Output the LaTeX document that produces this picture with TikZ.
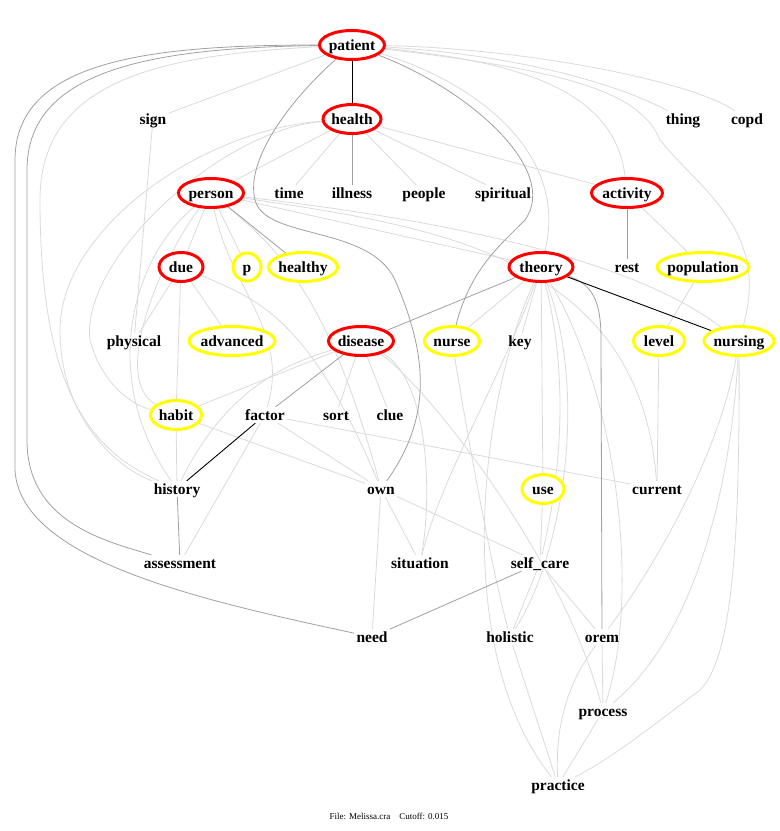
\documentclass[tikz,border=0pt]{standalone}
\usepackage{fontspec}
\setmainfont{Liberation Serif}
\usetikzlibrary{shapes.geometric}
\pgfdeclarelayer{bg}
\pgfsetlayers{bg,main}
\definecolor{ringred}{RGB}{255,0,0}
\definecolor{ringyel}{RGB}{255,255,0}
\definecolor{edgemid}{RGB}{160,160,160}
\definecolor{edgelt}{RGB}{218,218,218}
\tikzset{
 lbl/.style={font=\fontsize{15.5}{18}\selectfont\bfseries, inner sep=2pt, text height=11pt, text depth=1pt},
 ring/.style={lbl, ellipse, line width=3pt, fill=white, inner sep=0pt, minimum height=29},
 redring/.style={ring, draw=ringred},
 yelring/.style={ring, draw=ringyel},
 eblk/.style={draw=black, line width=0.9pt},
 emid/.style={draw=edgemid, line width=0.8pt},
 elt/.style={draw=edgelt, line width=0.8pt},
 foot/.style={font=\fontsize{9}{11}\selectfont, inner sep=0pt},
}
\begin{document}
\begin{tikzpicture}[x=1pt,y=-1pt]
\useasboundingbox (0,0) rectangle (780,831);
% nodes
\node[redring, minimum width=65] (patient) at (352,45) {\makebox[0pt]{patient}};
\node[redring, minimum width=58] (health) at (352,119) {\makebox[0pt]{health}};
\node[lbl] (sign) at (153,119) {sign};
\node[lbl] (thing) at (683,119) {thing};
\node[lbl] (copd) at (747,119) {copd};
\node[redring, minimum width=65] (person) at (211,193) {\makebox[0pt]{person}};
\node[lbl] (time) at (289,193) {time};
\node[lbl] (illness) at (352,193) {illness};
\node[lbl] (people) at (424,193) {people};
\node[lbl] (spiritual) at (503,193) {spiritual};
\node[redring, minimum width=71] (activity) at (627,193) {\makebox[0pt]{activity}};
\node[redring, minimum width=44] (due) at (181,267) {\makebox[0pt]{due}};
\node[yelring, minimum width=28, minimum height=28] (p) at (247,267) {\makebox[0pt]{p}};
\node[yelring, minimum width=69] (healthy) at (303,267) {\makebox[0pt]{healthy}};
\node[redring, minimum width=64] (theory) at (541,267) {\makebox[0pt]{theory}};
\node[lbl] (rest) at (627,267) {rest};
\node[yelring, minimum width=92] (population) at (703,267) {\makebox[0pt]{population}};
\node[lbl] (physical) at (134,341) {physical};
\node[yelring, minimum width=86] (advanced) at (232,341) {\makebox[0pt]{advanced}};
\node[redring, minimum width=65] (disease) at (361,341) {\makebox[0pt]{disease}};
\node[yelring, minimum width=55] (nurse) at (452,341) {\makebox[0pt]{nurse}};
\node[lbl] (key) at (520,341) {key};
\node[yelring, minimum width=51] (level) at (659,341) {\makebox[0pt]{level}};
\node[yelring, minimum width=70] (nursing) at (739,341) {\makebox[0pt]{nursing}};
\node[yelring, minimum width=51] (habit) at (176,415) {\makebox[0pt]{habit}};
\node[lbl] (factor) at (265,415) {factor};
\node[lbl] (sort) at (336,415) {sort};
\node[lbl] (clue) at (390,415) {clue};
\node[lbl] (history) at (177,489) {history};
\node[lbl] (own) at (381,489) {own};
\node[yelring, minimum width=42] (use) at (543,489) {\makebox[0pt]{use}};
\node[lbl] (current) at (657,489) {current};
\node[lbl] (assessment) at (180,563) {assessment};
\node[lbl] (situation) at (420,563) {situation};
\node[lbl] (self_care) at (540,563) {self\_care};
\node[lbl] (need) at (372,637) {need};
\node[lbl] (holistic) at (510,637) {holistic};
\node[lbl] (orem) at (602,637) {orem};
\node[lbl] (process) at (603,711) {process};
\node[lbl] (practice) at (558,785) {practice};
\node[foot] (footer) at (389,816) {File: Melissa.cra\hspace{9pt}Cutoff: 0.015};
% edges
\begin{pgfonlayer}{bg}
% light edges
\draw[elt] (patient) -- (sign);
\draw[elt] (patient) .. controls (160,55) and (40,80) .. (40,200) .. controls (40,390) and (90,450) .. (history);
\draw[elt] (patient) .. controls (520,55) and (620,85) .. (thing);
\draw[elt] (patient) .. controls (520,48) and (690,80) .. (copd);
\draw[elt] (patient) .. controls (520,62) and (615,90) .. (activity);
\draw[elt] (patient) .. controls (560,70) and (640,90) .. (660,140) .. controls (700,190) and (770,230) .. (nursing);
\draw[elt] (patient) .. controls (470,80) and (570,150) .. (theory);
\draw[elt] (health) -- (time);
\draw[elt] (health) -- (people);
\draw[elt] (health) -- (spiritual);
\draw[elt] (health) -- (activity);
\draw[elt] (health) -- (person);
\draw[elt] (health) .. controls (200,130) and (60,230) .. (60,330) .. controls (60,420) and (120,470) .. (history);
\draw[elt] (health) .. controls (220,130) and (80,260) .. (90,340) .. controls (100,380) and (130,405) .. (habit);
\draw[elt] (sign) -- (physical);
\draw[elt] (person) -- (due);
\draw[elt] (person) -- (p);
\draw[elt] (person) .. controls (130,260) and (100,380) .. (history);
\draw[elt] (person) .. controls (160,260) and (110,380) .. (habit);
\draw[elt] (person) -- (theory);
\draw[elt] (person) .. controls (400,215) and (620,250) .. (nursing);
\draw[elt] (person) .. controls (420,225) and (640,250) .. (current);
\draw[elt] (person) .. controls (230,290) and (290,330) .. (factor);
\draw[elt] (person) .. controls (280,250) and (330,300) .. (own);
\draw[elt] (due) -- (physical);
\draw[elt] (due) -- (advanced);
\draw[elt] (due) -- (habit);
\draw[elt] (due) .. controls (260,300) and (310,320) .. (own);
\draw[elt] (disease) -- (sort);
\draw[elt] (disease) -- (clue);
\draw[elt] (disease) -- (habit);
\draw[elt] (disease) .. controls (300,360) and (230,380) .. (history);
\draw[elt] (disease) .. controls (430,380) and (432,500) .. (situation);
\draw[elt] (disease) .. controls (420,380) and (560,550) .. (process);
\draw[elt] (habit) -- (history);
\draw[elt] (habit) -- (own);
\draw[elt] (factor) -- (own);
\draw[elt] (factor) -- (current);
\draw[elt] (factor) -- (assessment);
\draw[elt] (own) -- (need);
\draw[elt] (own) -- (situation);
\draw[elt] (own) -- (self_care);
\draw[elt] (theory) -- (key);
\draw[elt] (theory) -- (nurse);
\draw[elt] (theory) -- (use);
\draw[elt] (theory) .. controls (570,380) and (560,480) .. (self_care);
\draw[elt] (theory) .. controls (500,380) and (440,480) .. (situation);
\draw[elt] (theory) .. controls (590,400) and (560,560) .. (holistic);
\draw[elt] (theory) .. controls (620,400) and (640,600) .. (process);
\draw[elt] (theory) .. controls (480,400) and (450,650) .. (practice);
\draw[elt] (activity) -- (population);
\draw[elt] (population) -- (level);
\draw[elt] (level) -- (current);
\draw[elt] (nursing) .. controls (720,450) and (660,560) .. (orem);
\draw[elt] (nursing) .. controls (730,500) and (690,640) .. (process);
\draw[elt] (nursing) .. controls (740,560) and (730,660) .. (700,690) .. controls (660,720) and (610,760) .. (practice);
\draw[elt] (use) -- (self_care);
\draw[elt] (self_care) -- (holistic);
\draw[elt] (self_care) -- (orem);
\draw[elt] (nurse) .. controls (470,450) and (490,560) .. (holistic);
\draw[elt] (holistic) -- (practice);
\draw[elt] (orem) -- (process);
\draw[elt] (orem) .. controls (570,680) and (555,720) .. (practice);
\draw[elt] (process) -- (practice);
% mid grey edges
\draw[emid] (health) -- (illness);
\draw[emid] (activity) -- (rest);
\draw[emid] (history) -- (assessment);
\draw[emid] (self_care) -- (need);
\draw[emid] (disease) -- (factor);
\draw[emid] (theory) -- (disease);
\draw[emid] (person) -- (healthy);
\draw[emid] (theory) .. controls (595,285) and (601,305) .. (601,340) -- (orem);
\draw[emid] (patient) .. controls (290,100) and (245,160) .. (255,200) .. controls (265,240) and (370,225) .. (395,280) .. controls (430,360) and (430,420) .. (own);
\draw[emid] (patient) .. controls (470,90) and (560,170) .. (525,220) .. controls (500,245) and (470,270) .. (nurse);
\draw[emid] (patient) .. controls (150,45) and (15,60) .. (15,160) -- (15,470) .. controls (20,560) and (200,600) .. (need);
\draw[emid] (patient) .. controls (150,48) and (27,70) .. (27,170) -- (27,440) .. controls (27,520) and (100,540) .. (assessment);
% black edges
\draw[eblk] (patient) -- (health);
\draw[eblk] (theory) -- (nursing);
\draw[eblk] (factor) -- (history);
\end{pgfonlayer}
\end{tikzpicture}
\end{document}
